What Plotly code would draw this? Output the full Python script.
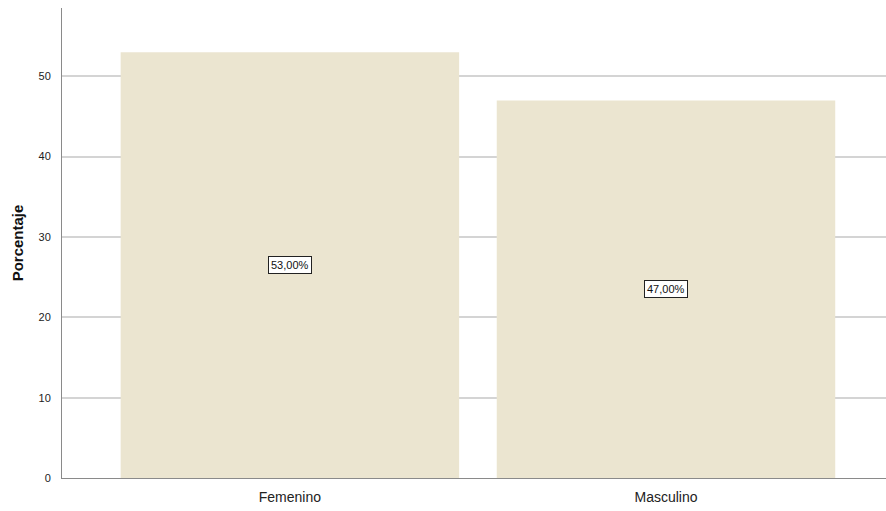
import plotly.graph_objects as go

categories = ["Femenino", "Masculino"]
percentages = [53.0, 47.0]
y_ticks = [0, 10, 20, 30, 40, 50]

bar_color = "#ebe5d0"

fig = go.Figure()
fig.add_trace(go.Bar(
    x=categories,
    y=percentages,
    width=0.9,
    marker=dict(color=bar_color, line=dict(width=0)),
    hoverinfo="skip",
))

# value labels boxed at mid-height of each bar
for cat, val in zip(categories, percentages):
    fig.add_annotation(
        x=cat, y=val / 2, xref="x", yref="y",
        text=f"{val:.2f}%".replace(".", ","),
        showarrow=False,
        bgcolor="white", bordercolor="#222222", borderwidth=1, borderpad=2,
        font=dict(family="Liberation Sans, Arial, sans-serif", size=11, color="#111111"),
    )

fig.update_layout(
    width=886, height=511,
    margin=dict(l=62, r=0, t=8, b=33),
    paper_bgcolor="white", plot_bgcolor="white",
    showlegend=False,
    bargap=0.1,
    font=dict(family="Liberation Sans, Arial, sans-serif", color="#222222"),
)
fig.update_xaxes(
    range=[-0.606, 1.585],
    showgrid=False, zeroline=False,
    showline=True, linecolor="#8a8a8a", linewidth=1,
    ticks="", ticklabelstandoff=6,
    tickfont=dict(size=14, color="#222222"),
)
fig.update_yaxes(
    range=[0, 58.5],
    tickvals=y_ticks,
    showgrid=True, gridcolor="#d4d4d4", gridwidth=1.5,
    zeroline=False,
    showline=True, linecolor="#8a8a8a", linewidth=1,
    ticks="", ticklabelstandoff=8,
    tickfont=dict(size=11, color="#222222"),
    title=dict(text="<b>Porcentaje</b>", font=dict(size=15, color="#111111"), standoff=11),
)

fig.write_html("out.html")
